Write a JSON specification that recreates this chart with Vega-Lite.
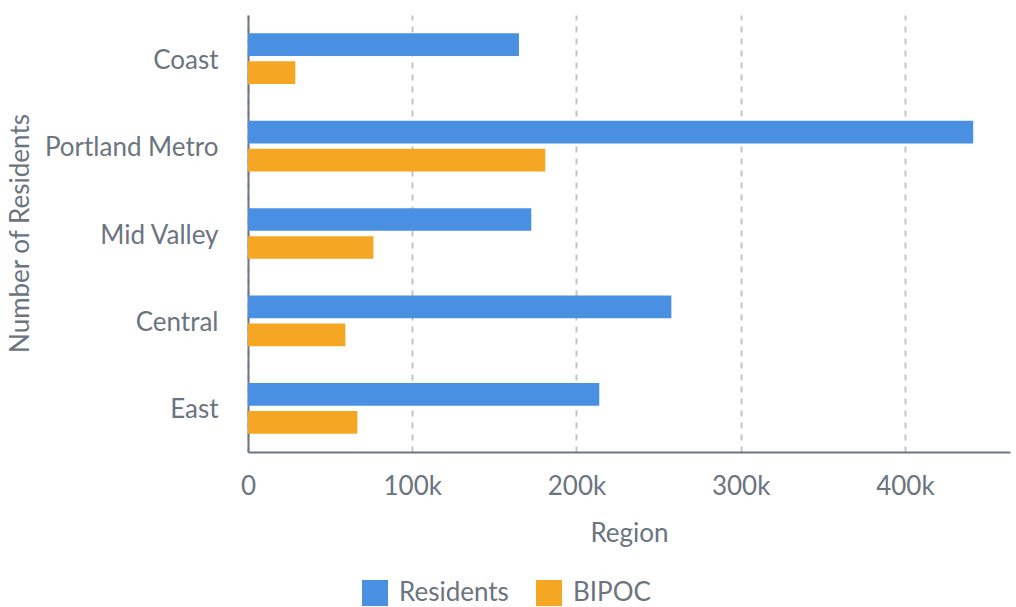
{
  "$schema": "https://vega.github.io/schema/vega-lite/v6.json",
  "autosize": "none",
  "width": 762,
  "height": 437,
  "padding": {"left": 248, "top": 15, "right": 6, "bottom": 155},
  "background": "white",
  "config": {
    "font": "Lato",
    "view": {"stroke": null},
    "axis": {"labelFont": "Lato", "titleFont": "Lato", "labelColor": "#6b7480", "titleColor": "#6b7480", "titleFontWeight": "normal", "labelFontSize": 26, "titleFontSize": 26, "domainColor": "#6e7681", "domainWidth": 2, "ticks": false},
    "legend": {"labelFont": "Lato", "labelColor": "#6b7480", "labelFontSize": 26}
  },
  "data": {
    "values": [
      {"region": "Coast", "series": "Residents", "value": 165000},
      {"region": "Coast", "series": "BIPOC", "value": 28800},
      {"region": "Portland Metro", "series": "Residents", "value": 441600},
      {"region": "Portland Metro", "series": "BIPOC", "value": 181000},
      {"region": "Mid Valley", "series": "Residents", "value": 172500},
      {"region": "Mid Valley", "series": "BIPOC", "value": 76400},
      {"region": "Central", "series": "Residents", "value": 257800},
      {"region": "Central", "series": "BIPOC", "value": 59300},
      {"region": "East", "series": "Residents", "value": 213900},
      {"region": "East", "series": "BIPOC", "value": 66600}
    ]
  },
  "mark": {"type": "bar"},
  "encoding": {
    "y": {
      "field": "region", "type": "nominal", "sort": null,
      "scale": {"paddingInner": 0.42, "paddingOuter": 0.21},
      "axis": {"title": "Number of Residents", "labelPadding": 30, "labelOffset": 2, "titleX": -228, "titleY": 218, "titleBaseline": "middle", "titleAngle": -90, "titleAlign": "center", "grid": false}
    },
    "yOffset": {
      "field": "series", "type": "nominal", "sort": ["Residents", "BIPOC"],
      "scale": {"paddingInner": 0.19, "paddingOuter": 0}
    },
    "x": {
      "field": "value", "type": "quantitative",
      "scale": {"domain": [0, 464000], "nice": false},
      "axis": {"title": "Region", "values": [0, 100000, 200000, 300000, 400000], "labelFlush": false, "labelPadding": 21, "titleY": 81, "titleBaseline": "middle", "grid": true, "gridDash": [6, 6], "gridColor": "#c4c4c8", "gridWidth": 2, "labelExpr": "datum.value == 0 ? '0' : (datum.value / 1000) + 'k'"}
    },
    "color": {
      "field": "series", "type": "nominal", "sort": ["Residents", "BIPOC"],
      "scale": {"domain": ["Residents", "BIPOC"], "range": ["#4a90e2", "#f5a623"]},
      "legend": {"title": null, "orient": "none", "direction": "horizontal", "legendX": 114, "legendY": 565, "symbolType": "square", "symbolSize": 676, "symbolStrokeWidth": 0, "symbolOpacity": 1, "labelOffset": 11, "columnPadding": 27}
    }
  }
}
